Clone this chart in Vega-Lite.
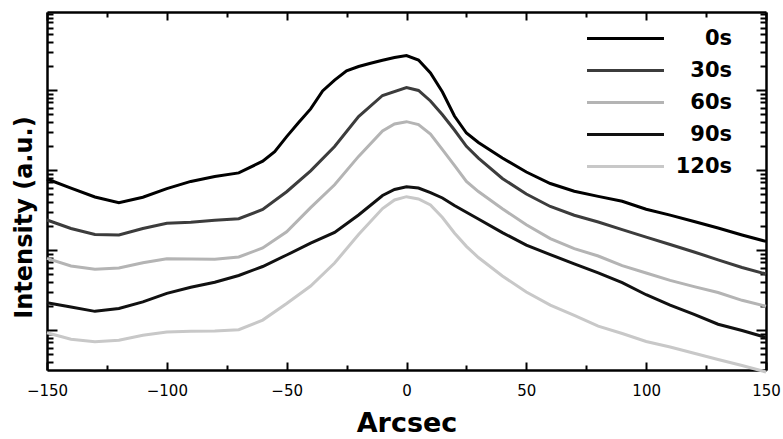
{
  "$schema": "https://vega.github.io/schema/vega-lite/v6.json",
  "width": 719,
  "height": 358,
  "autosize": {"type": "none"},
  "padding": {"left": 47, "top": 12, "right": 17, "bottom": 69},
  "background": "white",
  "config": {
    "view": {"stroke": null},
    "font": "DejaVu Sans",
    "axis": {"domainColor": "black", "domainWidth": 2.5, "tickColor": "black", "tickWidth": 2, "grid": false}
  },
  "data": {"values": [
    {"t":"0s","x":-150,"y":77.2},{"t":"0s","x":-140,"y":59.2},{"t":"0s","x":-130,"y":46.0},{"t":"0s","x":-120,"y":39.0},{"t":"0s","x":-110,"y":45.7},{"t":"0s","x":-100,"y":58.6},{"t":"0s","x":-90,"y":72.0},{"t":"0s","x":-80,"y":83.0},{"t":"0s","x":-70,"y":92.0},{"t":"0s","x":-60,"y":128.8},{"t":"0s","x":-55,"y":170},{"t":"0s","x":-50,"y":261.5},{"t":"0s","x":-45,"y":392},{"t":"0s","x":-40,"y":580},{"t":"0s","x":-35,"y":972},{"t":"0s","x":-30,"y":1326},{"t":"0s","x":-25,"y":1742},{"t":"0s","x":-20,"y":1967},{"t":"0s","x":-15,"y":2158},{"t":"0s","x":-10,"y":2350},{"t":"0s","x":-5,"y":2547},{"t":"0s","x":0,"y":2699},{"t":"0s","x":5,"y":2371},{"t":"0s","x":10,"y":1632},{"t":"0s","x":15,"y":944},{"t":"0s","x":20,"y":473},{"t":"0s","x":25,"y":290},{"t":"0s","x":30,"y":221},{"t":"0s","x":40,"y":141},{"t":"0s","x":50,"y":94.4},{"t":"0s","x":60,"y":67.8},{"t":"0s","x":70,"y":54.2},{"t":"0s","x":80,"y":46.8},{"t":"0s","x":90,"y":40.7},{"t":"0s","x":100,"y":32.3},{"t":"0s","x":110,"y":27.3},{"t":"0s","x":120,"y":22.7},{"t":"0s","x":130,"y":18.8},{"t":"0s","x":140,"y":15.4},{"t":"0s","x":150,"y":12.8},
    {"t":"30s","x":-150,"y":23.7},{"t":"30s","x":-140,"y":18.6},{"t":"30s","x":-130,"y":15.6},{"t":"30s","x":-120,"y":15.4},{"t":"30s","x":-110,"y":18.6},{"t":"30s","x":-100,"y":21.6},{"t":"30s","x":-90,"y":22.3},{"t":"30s","x":-80,"y":23.6},{"t":"30s","x":-70,"y":24.6},{"t":"30s","x":-60,"y":32.1},{"t":"30s","x":-50,"y":53.5},{"t":"30s","x":-40,"y":97.7},{"t":"30s","x":-30,"y":197},{"t":"30s","x":-20,"y":466},{"t":"30s","x":-10,"y":854},{"t":"30s","x":0,"y":1075},{"t":"30s","x":5,"y":986},{"t":"30s","x":10,"y":729},{"t":"30s","x":15,"y":491},{"t":"30s","x":20,"y":316},{"t":"30s","x":25,"y":198},{"t":"30s","x":30,"y":141},{"t":"30s","x":40,"y":78.3},{"t":"30s","x":50,"y":50.1},{"t":"30s","x":60,"y":35.0},{"t":"30s","x":70,"y":27.2},{"t":"30s","x":80,"y":22.4},{"t":"30s","x":90,"y":18.0},{"t":"30s","x":100,"y":14.5},{"t":"30s","x":110,"y":11.7},{"t":"30s","x":120,"y":9.44},{"t":"30s","x":130,"y":7.54},{"t":"30s","x":140,"y":6.04},{"t":"30s","x":150,"y":5.01},
    {"t":"60s","x":-150,"y":7.87},{"t":"60s","x":-140,"y":6.31},{"t":"60s","x":-130,"y":5.75},{"t":"60s","x":-120,"y":5.96},{"t":"60s","x":-110,"y":6.92},{"t":"60s","x":-100,"y":7.76},{"t":"60s","x":-90,"y":7.74},{"t":"60s","x":-80,"y":7.67},{"t":"60s","x":-70,"y":8.18},{"t":"60s","x":-60,"y":10.6},{"t":"60s","x":-50,"y":16.9},{"t":"60s","x":-40,"y":33.8},{"t":"60s","x":-30,"y":65.3},{"t":"60s","x":-20,"y":148},{"t":"60s","x":-10,"y":307},{"t":"60s","x":-5,"y":376},{"t":"60s","x":0,"y":402},{"t":"60s","x":5,"y":369},{"t":"60s","x":10,"y":282},{"t":"60s","x":15,"y":180},{"t":"60s","x":20,"y":114},{"t":"60s","x":25,"y":71.8},{"t":"60s","x":30,"y":53.8},{"t":"60s","x":40,"y":32.7},{"t":"60s","x":50,"y":20.7},{"t":"60s","x":60,"y":13.9},{"t":"60s","x":70,"y":10.4},{"t":"60s","x":80,"y":8.41},{"t":"60s","x":90,"y":6.37},{"t":"60s","x":100,"y":5.16},{"t":"60s","x":110,"y":4.17},{"t":"60s","x":120,"y":3.48},{"t":"60s","x":130,"y":2.94},{"t":"60s","x":140,"y":2.35},{"t":"60s","x":150,"y":1.98},
    {"t":"90s","x":-150,"y":2.19},{"t":"90s","x":-140,"y":1.94},{"t":"90s","x":-130,"y":1.71},{"t":"90s","x":-120,"y":1.86},{"t":"90s","x":-110,"y":2.25},{"t":"90s","x":-100,"y":2.87},{"t":"90s","x":-90,"y":3.43},{"t":"90s","x":-80,"y":3.95},{"t":"90s","x":-70,"y":4.80},{"t":"90s","x":-60,"y":6.22},{"t":"90s","x":-50,"y":8.66},{"t":"90s","x":-40,"y":12.2},{"t":"90s","x":-30,"y":16.6},{"t":"90s","x":-20,"y":27.4},{"t":"90s","x":-10,"y":48.0},{"t":"90s","x":-5,"y":57.0},{"t":"90s","x":0,"y":61.8},{"t":"90s","x":5,"y":59.6},{"t":"90s","x":10,"y":52.3},{"t":"90s","x":15,"y":44.7},{"t":"90s","x":20,"y":36.0},{"t":"90s","x":30,"y":24.4},{"t":"90s","x":40,"y":16.5},{"t":"90s","x":50,"y":11.5},{"t":"90s","x":60,"y":8.76},{"t":"90s","x":70,"y":6.72},{"t":"90s","x":80,"y":5.17},{"t":"90s","x":90,"y":3.90},{"t":"90s","x":100,"y":2.76},{"t":"90s","x":110,"y":2.05},{"t":"90s","x":120,"y":1.57},{"t":"90s","x":130,"y":1.18},{"t":"90s","x":140,"y":0.986},{"t":"90s","x":150,"y":0.806},
    {"t":"120s","x":-150,"y":0.925},{"t":"120s","x":-140,"y":0.767},{"t":"120s","x":-130,"y":0.714},{"t":"120s","x":-120,"y":0.746},{"t":"120s","x":-110,"y":0.861},{"t":"120s","x":-100,"y":0.944},{"t":"120s","x":-90,"y":0.966},{"t":"120s","x":-80,"y":0.972},{"t":"120s","x":-70,"y":1.01},{"t":"120s","x":-60,"y":1.33},{"t":"120s","x":-50,"y":2.14},{"t":"120s","x":-40,"y":3.55},{"t":"120s","x":-30,"y":6.88},{"t":"120s","x":-20,"y":15.6},{"t":"120s","x":-10,"y":33.0},{"t":"120s","x":-5,"y":42.2},{"t":"120s","x":0,"y":46.4},{"t":"120s","x":5,"y":43.4},{"t":"120s","x":10,"y":36.5},{"t":"120s","x":15,"y":25.5},{"t":"120s","x":20,"y":16.3},{"t":"120s","x":25,"y":11.1},{"t":"120s","x":30,"y":8.05},{"t":"120s","x":40,"y":4.73},{"t":"120s","x":50,"y":2.99},{"t":"120s","x":60,"y":2.05},{"t":"120s","x":70,"y":1.52},{"t":"120s","x":80,"y":1.12},{"t":"120s","x":90,"y":0.904},{"t":"120s","x":100,"y":0.718},{"t":"120s","x":110,"y":0.613},{"t":"120s","x":120,"y":0.511},{"t":"120s","x":130,"y":0.428},{"t":"120s","x":140,"y":0.360},{"t":"120s","x":150,"y":0.299}
  ]},
  "resolve": {"axis": {"x": "independent", "y": "independent"}},
  "layer": [
    {
      "mark": {"type": "line", "strokeWidth": 3, "clip": false},
      "encoding": {
        "x": {"field": "x", "type": "quantitative",
              "scale": {"domain": [-150, 150], "nice": false, "zero": false},
              "axis": {"orient": "bottom", "values": [-150,-125,-100,-75,-50,-25,0,25,50,75,100,125,150],
                       "labelExpr": "datum.value % 50 == 0 ? datum.label : ''",
                       "tickSize": {"condition": {"test": "datum.value % 50 == 0", "value": -8}, "value": -5},
                       "labelFont": "DejaVu Sans", "labelFontSize": 15, "labelColor": "black", "labelPadding": 21, "labelFlush": false,
                       "title": "Arcsec", "titleFont": "DejaVu Sans", "titleFontSize": 27, "titleFontWeight": "bold", "titleColor": "black", "titlePadding": 12}},
        "y": {"field": "y", "type": "quantitative",
              "scale": {"type": "log", "domain": [0.3162, 9441], "nice": false},
              "axis": {"orient": "left", "labels": false,
                       "values": [0.4,0.5,0.6,0.7,0.8,0.9,1,2,3,4,5,6,7,8,9,10,20,30,40,50,60,70,80,90,100,200,300,400,500,600,700,800,900,1000,2000,3000,4000,5000,6000,7000,8000,9000],
                       "tickSize": {"condition": {"test": "indexof([1,10,100,1000], datum.value) >= 0", "value": -10}, "value": -6},
                       "title": "Intensity (a.u.)", "titleFont": "DejaVu Sans", "titleFontSize": 24, "titleFontWeight": "bold", "titleColor": "black", "titlePadding": 10, "titleY": 205}},
        "color": {"field": "t", "type": "nominal",
                  "scale": {"domain": ["0s","30s","60s","90s","120s"], "range": ["#000000","#3c3c3c","#b4b4b4","#111111","#c8c8c8"]},
                  "legend": {"title": null, "orient": "none", "legendX": 568, "legendY": 16, "padding": 0,
                             "symbolType": "M-5,0H5", "symbolSize": 237, "symbolStrokeWidth": 3,
                             "labelFont": "DejaVu Sans", "labelFontSize": 21, "labelFontWeight": "bold", "labelColor": "black",
                             "labelAlign": "right", "labelOffset": 96, "rowPadding": 10, "labelLimit": 200}}
      }
    },
    {
      "mark": {"type": "line", "opacity": 0},
      "encoding": {
        "x": {"field": "x", "type": "quantitative",
              "axis": {"orient": "top", "labels": false, "title": null, "values": [-150,-125,-100,-75,-50,-25,0,25,50,75,100,125,150],
                       "tickSize": {"condition": {"test": "datum.value % 50 == 0", "value": -8}, "value": -5}}},
        "y": {"field": "y", "type": "quantitative",
              "axis": {"orient": "right", "labels": false, "title": null,
                       "values": [0.4,0.5,0.6,0.7,0.8,0.9,1,2,3,4,5,6,7,8,9,10,20,30,40,50,60,70,80,90,100,200,300,400,500,600,700,800,900,1000,2000,3000,4000,5000,6000,7000,8000,9000],
                       "tickSize": {"condition": {"test": "indexof([1,10,100,1000], datum.value) >= 0", "value": -10}, "value": -6}}},
        "detail": {"field": "t", "type": "nominal"}
      }
    }
  ]
}
